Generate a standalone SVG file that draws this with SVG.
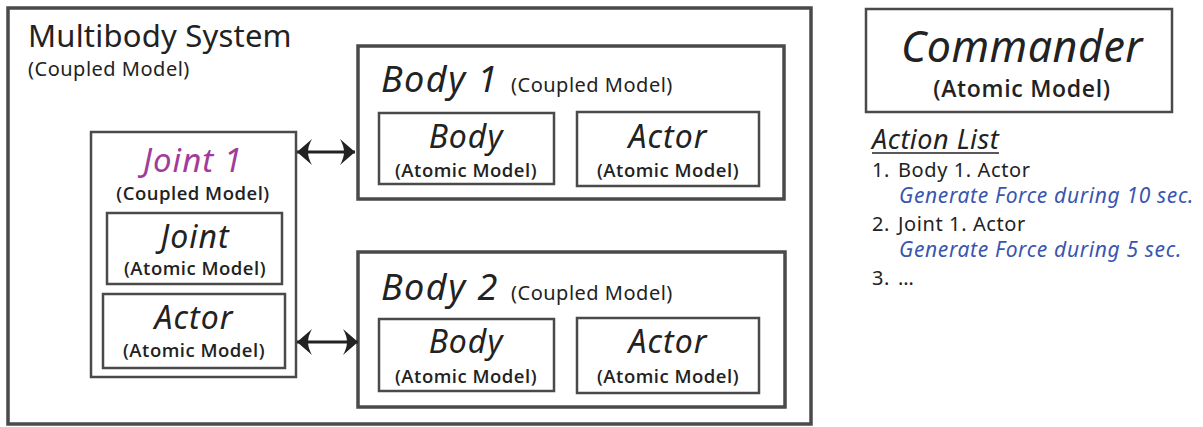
<svg xmlns="http://www.w3.org/2000/svg" width="1203" height="427" viewBox="0 0 1203 427">
<style>
text{font-family:"Noto Sans","Open Sans",sans-serif;fill:#222}
.b3{fill:#fff;stroke:#4a4a4a;stroke-width:3.5}
.b2{fill:#fff;stroke:#4a4a4a;stroke-width:2.5}
.it{font-style:italic}
.t32{font-size:32px;letter-spacing:1px}
.am{font-family:"Open Sans","Noto Sans",sans-serif;font-size:18.5px;font-weight:600;letter-spacing:0.5px}
.cm{font-size:20px;letter-spacing:0.5px}
.li{font-size:20px;letter-spacing:0.6px}
.bl{fill:#3a55b0;font-style:italic;font-size:21px;letter-spacing:0.65px}
.c{text-anchor:middle}
.con{stroke:#222;stroke-width:3;fill:none}
</style>
<defs>
<marker id="ah" viewBox="0 0 16 26" refX="16" refY="13" markerWidth="16" markerHeight="26" markerUnits="userSpaceOnUse" orient="auto-start-reverse">
<path d="M16,13 L1,0 Q5,7 5,13 Q5,19 1,26 Z" fill="#222"/>
</marker>
</defs>
<g id="multibody">
<rect class="b3" x="8" y="8" width="803" height="416"/>
<text x="28" y="47" font-size="31" letter-spacing="0.2">Multibody System</text>
<text x="28" y="76" class="cm">(Coupled Model)</text>
</g>
<g id="body1">
<rect class="b3" x="358" y="46" width="426" height="153"/>
<text x="381" y="92" class="it" font-size="36" letter-spacing="1.5">Body 1</text>
<text x="511" y="92" class="cm">(Coupled Model)</text>
</g>
<g id="body1-body">
<rect class="b2" x="379" y="113" width="175" height="71"/>
<text x="466" y="148" class="it t32 c">Body</text>
<text x="466" y="177" class="am c">(Atomic Model)</text>
</g>
<g id="body1-actor">
<rect class="b2" x="577" y="112" width="182" height="74"/>
<text x="668" y="148" class="it t32 c">Actor</text>
<text x="668" y="177" class="am c">(Atomic Model)</text>
</g>
<g id="body2">
<rect class="b3" x="358" y="252" width="427" height="155"/>
<text x="381" y="300" class="it" font-size="36" letter-spacing="1.5">Body 2</text>
<text x="511" y="300" class="cm">(Coupled Model)</text>
</g>
<g id="body2-body">
<rect class="b2" x="379" y="319" width="175" height="72"/>
<text x="466" y="353" class="it t32 c">Body</text>
<text x="466" y="383" class="am c">(Atomic Model)</text>
</g>
<g id="body2-actor">
<rect class="b2" x="577" y="318" width="182" height="75"/>
<text x="668" y="353" class="it t32 c">Actor</text>
<text x="668" y="383" class="am c">(Atomic Model)</text>
</g>
<g id="joint1">
<rect class="b2" x="91" y="132" width="205" height="245"/>
<text x="193" y="172" class="it c" font-size="33" letter-spacing="1" style="fill:#a03c9c">Joint 1</text>
<text x="193" y="200" class="am c">(Coupled Model)</text>
</g>
<g id="joint1-joint">
<rect class="b2" x="107" y="213" width="175" height="71"/>
<text x="195" y="248" class="it t32 c">Joint</text>
<text x="195" y="275" class="am c">(Atomic Model)</text>
</g>
<g id="joint1-actor">
<rect class="b2" x="103" y="294" width="182" height="74"/>
<text x="194" y="329" class="it t32 c">Actor</text>
<text x="194" y="357" class="am c">(Atomic Model)</text>
</g>
<g id="commander">
<rect class="b2" x="866" y="9" width="306" height="103"/>
<text x="1022" y="62" class="it c" font-size="43" letter-spacing="0.5">Commander</text>
<text x="1022" y="97" class="am c" style="font-size:23px;letter-spacing:0.7px">(Atomic Model)</text>
</g>
<g id="action-list">
<text x="872" y="149" class="it" font-size="27" letter-spacing="0.5">Action List</text>
<line x1="872" y1="153" x2="999" y2="153" stroke="#222" stroke-width="1.5"/>
<text x="872" y="177" class="li">1.</text>
<text x="898" y="177" class="li">Body 1. Actor</text>
<text x="899" y="203" class="bl">Generate Force during 10 sec.</text>
<text x="872" y="231" class="li">2.</text>
<text x="898" y="231" class="li">Joint 1. Actor</text>
<text x="899" y="257" class="bl">Generate Force during 5 sec.</text>
<text x="872" y="285" class="li">3.</text>
<text x="898" y="285" class="li">…</text>
</g>
<g id="connectors">
<line class="con" x1="297" y1="152" x2="355" y2="152" marker-start="url(#ah)" marker-end="url(#ah)"/>
<line class="con" x1="297" y1="342" x2="358" y2="342" marker-start="url(#ah)" marker-end="url(#ah)"/>
</g>
</svg>
